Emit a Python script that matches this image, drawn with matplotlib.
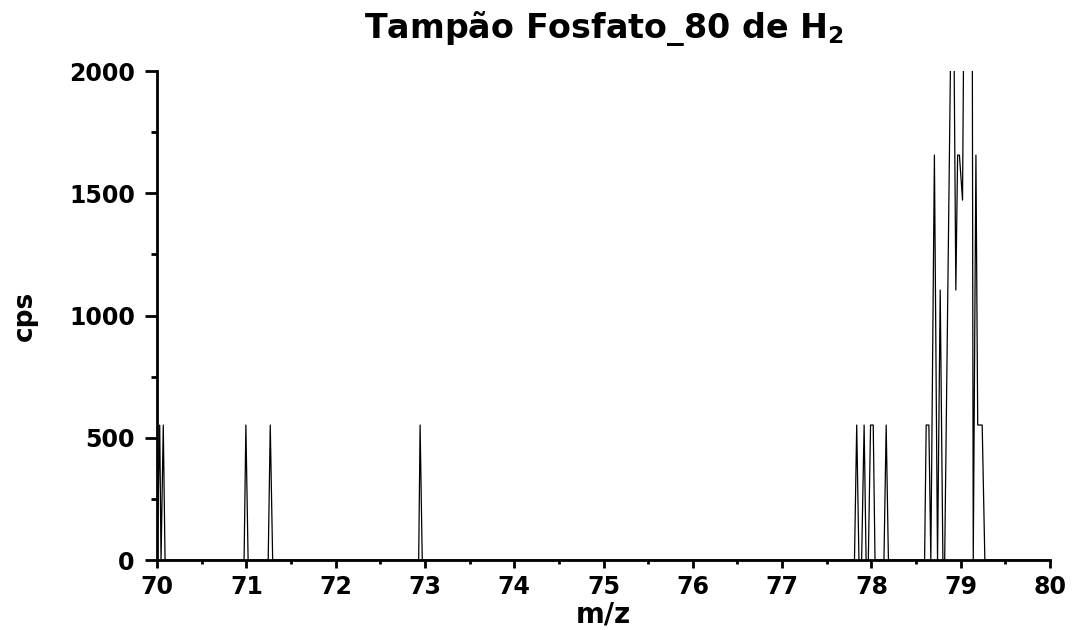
import matplotlib
matplotlib.use("Agg")
import matplotlib.pyplot as plt
from matplotlib.ticker import MultipleLocator

# m/z scan (cps); peaks above 2000 are clipped in the original
mz = [70.00, 70.03, 70.045, 70.07, 70.09,
      70.975, 70.995, 71.02,
      71.245, 71.268, 71.295,
      72.93, 72.946, 72.97,
      77.81, 77.835, 77.86, 77.89, 77.918, 77.94,
      77.965, 77.99, 78.02, 78.04,
      78.14, 78.165, 78.19,
      78.595, 78.613, 78.643, 78.665, 78.705, 78.74, 78.77, 78.80,
      78.82, 78.91, 78.945, 78.965, 78.985, 79.02, 79.05, 79.12, 79.14,
      79.17, 79.19, 79.24, 79.27, 80.00]
cps = [0, 552, 0, 552, 0,
       0, 552, 0,
       0, 552, 0,
       0, 552, 0,
       0, 552, 0, 0, 552, 0,
       0, 552, 552, 0,
       0, 552, 0,
       0, 552, 552, 0, 1656, 0, 1104, 0,
       0, 2810, 1104, 1656, 1656, 1472, 3050, 4000, 0,
       1656, 552, 552, 0, 0]

x_ticks = [70, 71, 72, 73, 74, 75, 76, 77, 78, 79, 80]
y_ticks = [0, 500, 1000, 1500, 2000]

plt.rcParams["font.family"] = ["DejaVu Sans"]
plt.rcParams["font.weight"] = "bold"
plt.rcParams["mathtext.default"] = "bf"

fig = plt.figure(figsize=(10.74, 6.30), dpi=100)
ax = fig.add_axes([0.1462, 0.1111, 0.8315, 0.7762])
ax.plot(mz, cps, color="black", linewidth=0.9)

ax.set_xlim(70, 80)
ax.set_ylim(0, 2000)
ax.set_xticks(x_ticks)
ax.set_yticks(y_ticks)
ax.xaxis.set_minor_locator(MultipleLocator(0.5))
ax.yaxis.set_minor_locator(MultipleLocator(250))
ax.tick_params(which="major", direction="out", width=2, labelsize=17)
ax.tick_params(which="minor", direction="out", width=2)
ax.tick_params(axis="x", which="major", length=6, pad=5)
ax.tick_params(axis="x", which="minor", length=3)
ax.tick_params(axis="y", which="major", length=9, pad=7)
ax.tick_params(axis="y", which="minor", length=4.5)
for lab in ax.get_xticklabels() + ax.get_yticklabels():
    lab.set_fontweight("bold")

for side in ["top", "right"]:
    ax.spines[side].set_visible(False)
for side in ["left", "bottom"]:
    ax.spines[side].set_linewidth(2)

ax.set_xlabel("m/z", fontsize=20, fontweight="bold", labelpad=1)
ax.set_ylabel("cps", fontsize=19, fontweight="bold", labelpad=22)
ax.set_title(r"Tampão Fosfato_80 de H$_2$", fontsize=24, fontweight="bold", pad=24)

fig.savefig("out.png", dpi=100)
